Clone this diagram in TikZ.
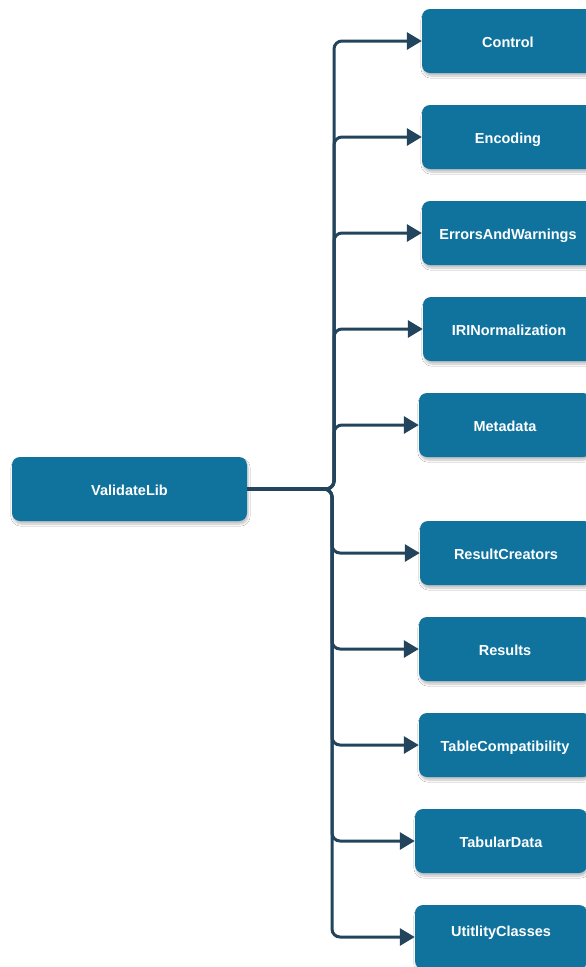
\documentclass[tikz,border=0pt]{standalone}
\usepackage{fontspec}
\setmainfont{Liberation Sans}
\usetikzlibrary{arrows.meta,shadows.blur}
\definecolor{boxblue}{HTML}{10739E}
\definecolor{linknavy}{HTML}{23445D}
\tikzset{
  module/.style={draw=none, fill=boxblue, rounded corners=8pt,
    minimum width=172pt, minimum height=64pt, inner sep=0pt,
    text height=12pt, text depth=0pt,
    text=white, font=\fontsize{14.5}{17}\selectfont\bfseries,
    blur shadow={shadow xshift=1pt, shadow yshift=-3pt, shadow blur steps=6, shadow opacity=25, shadow blur extra rounding=2pt}},
  rootbox/.style={module, minimum width=235pt},
  link/.style={draw=linknavy, line width=3pt, rounded corners=8pt,
    -{Triangle[length=15pt,width=17pt]}},
}
\begin{document}
\begin{tikzpicture}[x=1pt,y=-1pt]
  \useasboundingbox (0,0) rectangle (586,967);
  \clip (0,0) rectangle (586,967);
  \fill[white] (0,0) rectangle (586,967);

  % root library
  \node[rootbox] (root) at (129.5,489) {ValidateLib};

  % sub-packages
  \node[module] (control)  at (508,41)  {Control};
  \node[module] (encoding) at (508,137) {Encoding};
  \node[module] (errors)   at (508,233) {ErrorsAndWarnings};
  \node[module] (iri)      at (509,329) {IRINormalization};
  \node[module] (meta)     at (505,425) {Metadata};
  \node[module] (creators) at (506,553) {ResultCreators};
  \node[module] (results)  at (505,649) {Results};
  \node[module] (tablec)   at (505,745) {TableCompatibility};
  \node[module] (tabular)  at (501,841) {TabularData};
  \node[module] (util)     at (501,937) {\raisebox{7pt}{UtitlityClasses}};

  % branching points of the tree
  \coordinate (up)   at (334,489);
  \coordinate (down) at (332,489);

  \foreach \n in {control,encoding,errors,iri,meta}
    \draw[link] (root.east) -- (up) |- (\n.west);
  \foreach \n in {creators,results,tablec,tabular,util}
    \draw[link] (root.east) -- (down) |- (\n.west);
\end{tikzpicture}
\end{document}
